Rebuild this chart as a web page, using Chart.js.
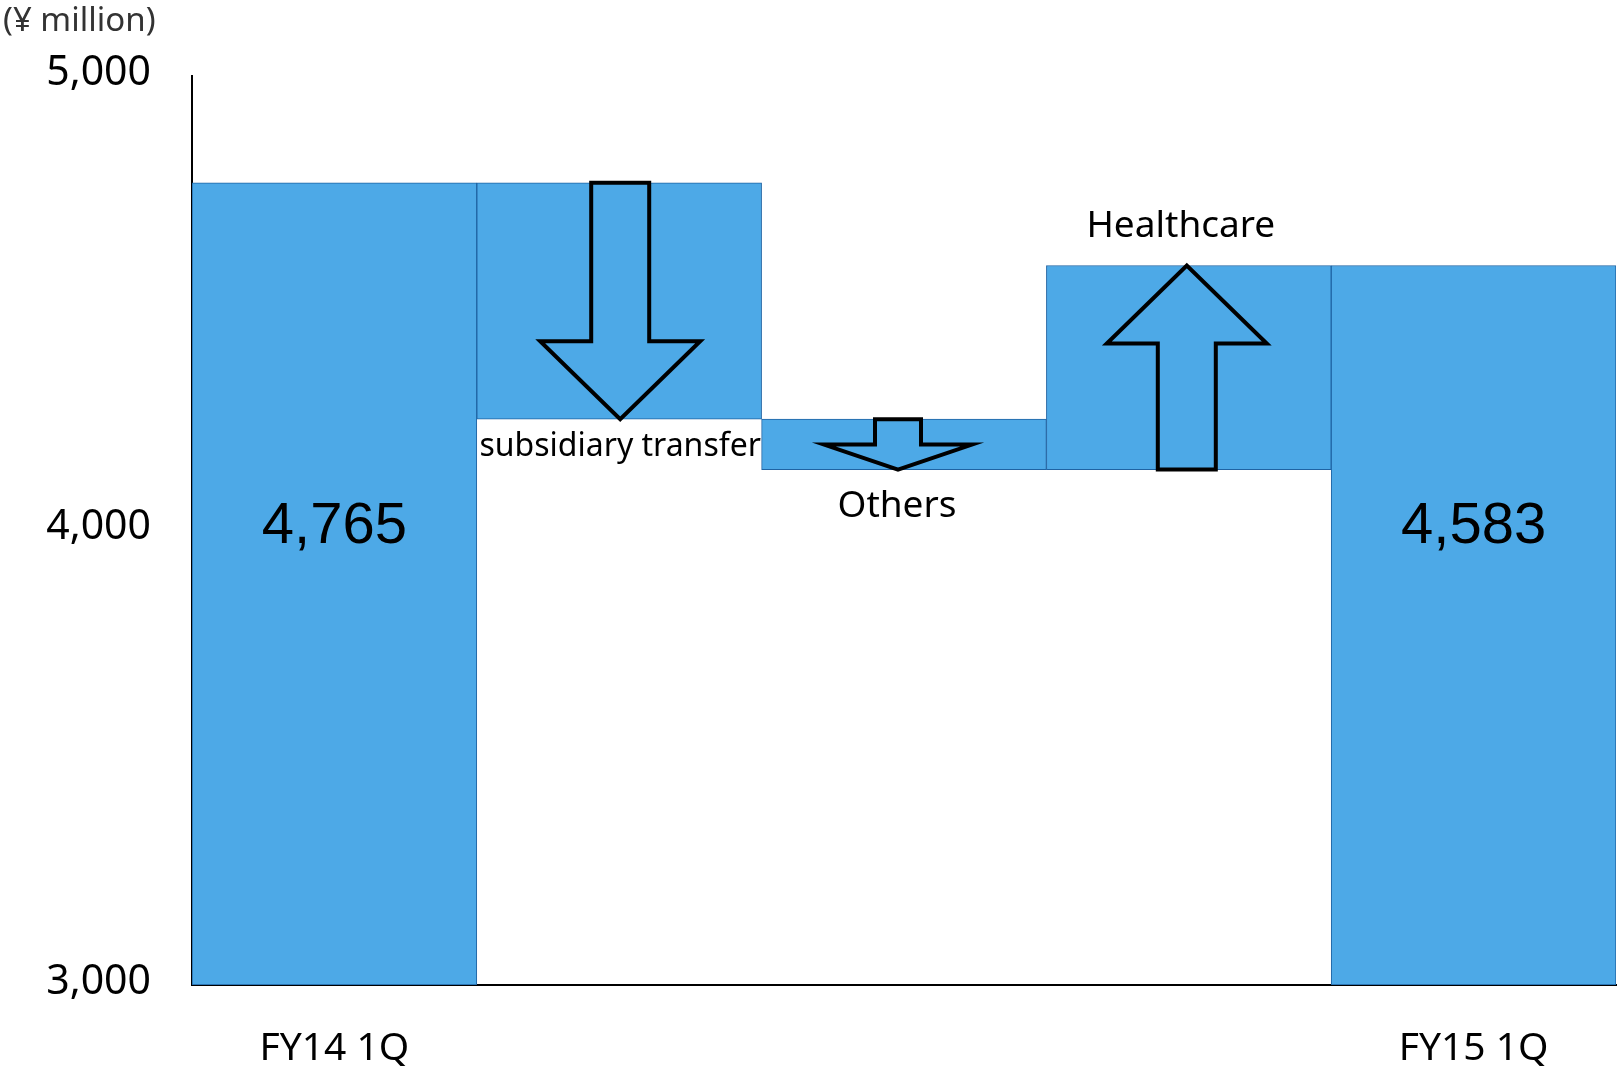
<!DOCTYPE html>
<html>
<head>
    <title>Sales waterfall</title>
    <script src="https://cdn.jsdelivr.net/npm/chart.js"></script>
    <style>
        html, body { margin: 0; padding: 0; background: #fff; }
        #chart-container { width: 1619px; height: 1069px; }
    </style>
</head>
<body>
    <div id="chart-container">
        <canvas id="chart" width="1619" height="1069"></canvas>
    </div>

    <script>
        // data (¥ million)
        const categories = ['FY14 1Q', 'subsidiary transfer', 'Others', 'Healthcare', 'FY15 1Q'];
        const startValue = 4765;
        const changes = [-520, -111, 449];
        const endValue = 4583;
        const axisMin = 3000;
        const axisMax = 5000;
        const tickValues = [3000, 4000, 5000];

        // build floating bars from the values
        function buildBars() {
            const bars = [[axisMin, startValue]];
            let running = startValue;
            changes.forEach(c => {
                const next = running + c;
                bars.push([Math.min(running, next), Math.max(running, next)]);
                running = next;
            });
            bars.push([axisMin, endValue]);
            return bars;
        }
        const barData = buildBars();

        const FONT = '"Noto Sans", sans-serif';

        const arrowPlugin = {
            id: 'arrows',
            afterDatasetsDraw(chart) {
                const ctx = chart.ctx;
                const meta = chart.getDatasetMeta(0);
                const shapes = [
                    null,
                    { shaft: 58, head: 160, headLen: 78, dx: 1 },
                    { shaft: 46, head: 148, headLen: 25, dx: -6 },
                    { shaft: 58, head: 160, headLen: 78, dx: -2 },
                    null
                ];
                ctx.save();
                ctx.strokeStyle = '#000';
                ctx.lineWidth = 4;
                ctx.lineJoin = 'miter';
                meta.data.forEach((bar, i) => {
                    const s = shapes[i];
                    if (!s) return;
                    const p = bar.getProps(['x', 'y', 'base'], true);
                    const top = Math.min(p.y, p.base);
                    const bottom = Math.max(p.y, p.base);
                    const cx = p.x + s.dx;
                    const hs = s.shaft / 2, hh = s.head / 2;
                    ctx.beginPath();
                    if (changes[i - 1] < 0) {
                        // pointing down
                        ctx.moveTo(cx - hs, top);
                        ctx.lineTo(cx + hs, top);
                        ctx.lineTo(cx + hs, bottom - s.headLen);
                        ctx.lineTo(cx + hh, bottom - s.headLen);
                        ctx.lineTo(cx, bottom);
                        ctx.lineTo(cx - hh, bottom - s.headLen);
                        ctx.lineTo(cx - hs, bottom - s.headLen);
                    } else {
                        ctx.moveTo(cx - hs, bottom);
                        ctx.lineTo(cx + hs, bottom);
                        ctx.lineTo(cx + hs, top + s.headLen);
                        ctx.lineTo(cx + hh, top + s.headLen);
                        ctx.lineTo(cx, top);
                        ctx.lineTo(cx - hh, top + s.headLen);
                        ctx.lineTo(cx - hs, top + s.headLen);
                    }
                    ctx.closePath();
                    ctx.stroke();
                });
                ctx.restore();
            }
        };

        const labelPlugin = {
            id: 'labels',
            afterDraw(chart) {
                const ctx = chart.ctx;
                const meta = chart.getDatasetMeta(0);
                const yScale = chart.scales.y;
                ctx.save();
                ctx.fillStyle = '#000';
                ctx.textAlign = 'center';
                ctx.textBaseline = 'middle';

                // totals inside end bars
                ctx.font = '58px "Liberation Sans", Arial, sans-serif';
                const totY = yScale.getPixelForValue(4000) - 4;
                ctx.fillText(startValue.toLocaleString('en-US'), meta.data[0].x, totY);
                ctx.fillText(endValue.toLocaleString('en-US'), meta.data[4].x, totY);

                // change labels
                const b1 = meta.data[1].getProps(['x', 'y', 'base'], true);
                ctx.font = '32px ' + FONT;
                ctx.fillText(categories[1], b1.x + 1, Math.max(b1.y, b1.base) + 28);

                const b2 = meta.data[2].getProps(['x', 'y', 'base'], true);
                ctx.font = '37px ' + FONT;
                ctx.fillText(categories[2], b2.x - 7, Math.max(b2.y, b2.base) + 37);

                const b3 = meta.data[3].getProps(['x', 'y', 'base'], true);
                ctx.fillText(categories[3], b3.x - 8, Math.min(b3.y, b3.base) - 39);

                // unit
                ctx.font = '33px ' + FONT;
                ctx.textAlign = 'left';
                ctx.fillStyle = '#333';
                ctx.fillText('(¥ million)', 3, 22);
                ctx.restore();
            }
        };

        const ctx = document.getElementById('chart').getContext('2d');
        const chart = new Chart(ctx, {
            type: 'bar',
            data: {
                labels: categories,
                datasets: [{
                    data: barData,
                    backgroundColor: '#4DA9E7',
                    borderColor: '#1F63A3',
                    borderWidth: 1,
                    borderSkipped: false,
                    barPercentage: 1,
                    categoryPercentage: 1
                }]
            },
            options: {
                responsive: false,
                animation: false,
                layout: { padding: { top: 76, right: 3, left: 0, bottom: 0 } },
                plugins: {
                    legend: { display: false },
                    tooltip: { enabled: false }
                },
                scales: {
                    x: {
                        grid: { display: false, drawTicks: false },
                        border: { display: true, color: '#000', width: 2 },
                        ticks: {
                            color: '#000',
                            font: { family: FONT, size: 39 },
                            padding: 40,
                            maxRotation: 0,
                            autoSkip: false,
                            callback: (v, i) => (i === 0 || i === categories.length - 1) ? categories[i] : ''
                        },
                        afterFit: s => { s.height = 84; }
                    },
                    y: {
                        min: axisMin,
                        max: axisMax,
                        grid: { display: false, drawTicks: false },
                        border: { display: true, color: '#000', width: 2 },
                        afterBuildTicks: s => { s.ticks = tickValues.map(v => ({ value: v })); },
                        afterFit: s => { s.width = 192; },
                        ticks: {
                            color: '#000',
                            font: { family: FONT, size: 41 },
                            padding: 41,
                            labelOffset: -3,
                            callback: v => v.toLocaleString('en-US')
                        }
                    }
                }
            },
            plugins: [arrowPlugin, labelPlugin]
        });
    </script>
</body>
</html>
